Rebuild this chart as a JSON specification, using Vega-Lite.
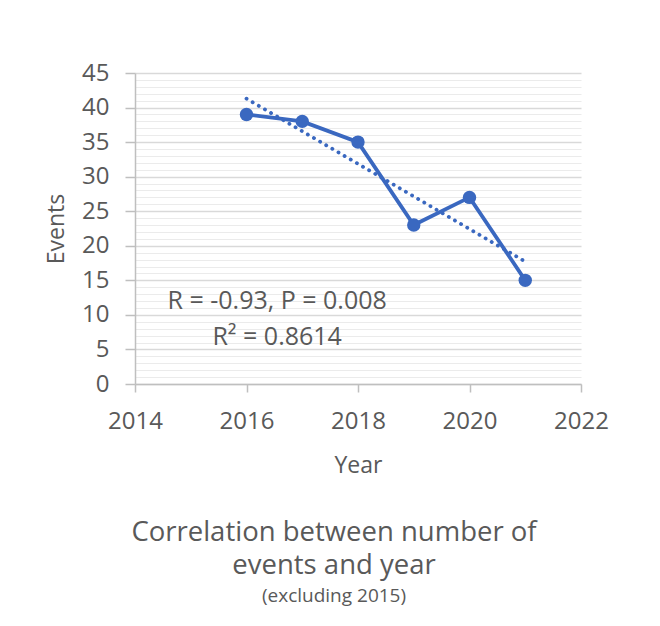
{
  "$schema": "https://vega.github.io/schema/vega-lite/v6.json",
  "width": 446,
  "height": 311,
  "autosize": {"type": "none"},
  "padding": {"left": 135, "top": 73, "right": 79, "bottom": 242},
  "background": "white",
  "config": {
    "font": "Open Sans",
    "view": {"stroke": null},
    "axis": {"labelColor": "#595959", "titleColor": "#595959", "titleFontWeight": "normal", "domainColor": "#bfbfbf", "tickColor": "#bfbfbf", "labelFlush": false, "labelOverlap": false}
  },
  "title": {
    "text": ["Correlation between number of", "events and year"],
    "subtitle": "(excluding 2015)",
    "orient": "bottom",
    "anchor": "middle",
    "frame": "group",
    "dx": -24,
    "fontSize": 27.5,
    "fontWeight": "normal",
    "color": "#595959",
    "lineHeight": 33,
    "subtitleFontSize": 19,
    "subtitleColor": "#595959",
    "subtitlePadding": 7,
    "offset": 42
  },
  "data": {
    "values": [
      {"year": 2016, "events": 39},
      {"year": 2017, "events": 38},
      {"year": 2018, "events": 35},
      {"year": 2019, "events": 23},
      {"year": 2020, "events": 27},
      {"year": 2021, "events": 15}
    ]
  },
  "layer": [
    {
      "transform": [{"regression": "events", "on": "year"}],
      "mark": {"type": "line", "color": "#3a68c0", "strokeWidth": 3.8, "strokeDash": [0.1, 7], "strokeCap": "round"},
      "encoding": {
        "x": {
          "field": "year",
          "type": "quantitative",
          "scale": {"domain": [2014, 2022], "nice": false, "zero": false},
          "axis": {
            "title": "Year",
            "values": [2014, 2016, 2018, 2020, 2022],
            "format": "d",
            "grid": false,
            "labelFontSize": 24,
            "labelPadding": 17,
            "tickSize": 8,
            "domainWidth": 1.5,
            "tickWidth": 1.5,
            "titleFontSize": 23,
            "titleBaseline": "alphabetic",
            "titleY": 88
          }
        },
        "y": {
          "field": "events",
          "type": "quantitative",
          "scale": {"domain": [0, 45], "nice": false},
          "axis": {
            "orient": "left",
            "title": null,
            "grid": true,
            "gridColor": "#ebebeb",
            "gridWidth": 1,
            "values": [1,2,3,4,6,7,8,9,11,12,13,14,16,17,18,19,21,22,23,24,26,27,28,29,31,32,33,34,36,37,38,39,41,42,43,44],
            "labels": false,
            "ticks": false,
            "domain": false
          }
        }
      }
    },
    {
      "mark": {"type": "line", "color": "#3a68c0", "strokeWidth": 3.8, "point": {"size": 180, "filled": true, "color": "#3a68c0", "opacity": 1}},
      "encoding": {
        "x": {"field": "year", "type": "quantitative"},
        "y": {
          "field": "events",
          "type": "quantitative",
          "scale": {"domain": [0, 45], "nice": false},
          "axis": {
            "orient": "left",
            "title": "Events",
            "values": [0,5,10,15,20,25,30,35,40,45],
            "grid": true,
            "gridColor": "#d9d9d9",
            "gridWidth": 1.5,
            "tickSize": 10,
            "tickWidth": 1.5,
            "domainWidth": 1.5,
            "labelFontSize": 24,
            "labelPadding": 16,
            "titleFontSize": 23,
            "titleBaseline": "alphabetic",
            "titleX": -72
          }
        }
      }
    },
    {
      "data": {"values": [{"stats": "R = -0.93, P = 0.008\nR² = 0.8614"}]},
      "mark": {"type": "text", "lineBreak": "\n", "fontSize": 25, "color": "#595959", "align": "center", "baseline": "alphabetic", "lineHeight": 36},
      "encoding": {
        "x": {"datum": 2016.55},
        "y": {"datum": 10.85, "axis": null},
        "text": {"field": "stats"}
      }
    }
  ],
  "resolve": {"axis": {"y": "independent"}}
}
